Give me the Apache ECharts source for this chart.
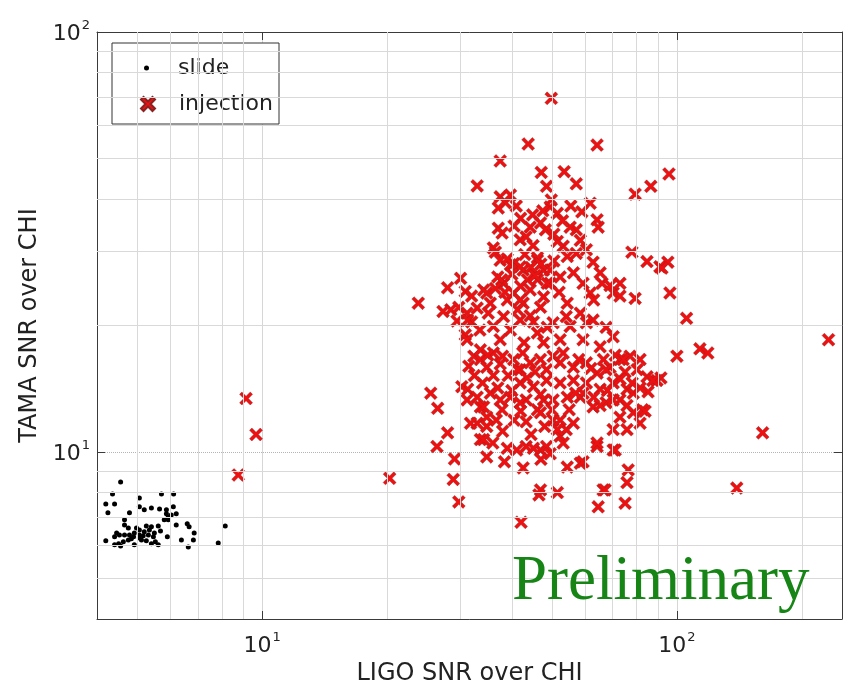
<!DOCTYPE html>
<html>
<head>
<meta charset="utf-8">
<script src="https://cdn.jsdelivr.net/npm/echarts@6/dist/echarts.min.js"></script>
<style>
  html, body { margin: 0; background: #fff; }
  #chart { width: 848px; height: 700px; }
</style>
</head>
<body>
<div id="chart"></div>
<script>
  // [LIGO SNR/chi, TAMA SNR/chi]
  const slidePoints = [
    [4.56,8.48],[4.36,7.94],[4.41,7.52],[4.20,7.52],[4.25,7.16],[4.79,7.16],[5.06,7.77],[5.06,7.40],
    [5.20,7.28],[5.41,7.35],[5.72,7.94],[6.12,7.94],[5.66,7.31],[5.88,7.28],[6.11,7.40],[6.04,7.08],
    [5.81,6.89],[5.94,6.89],[6.21,6.70],[6.60,6.74],[6.67,6.63],[6.86,6.41],[6.83,6.17],[6.39,6.17],
    [6.64,5.94],[5.91,6.28],[5.62,6.66],[5.41,6.63],[5.26,6.66],[5.20,6.45],[5.06,6.52],[4.98,6.59],
    [4.66,6.89],[4.66,6.70],[4.76,6.59],[4.46,6.41],[4.41,6.28],[4.53,6.34],[4.66,6.34],[4.79,6.34],
    [4.90,6.28],[4.92,6.41],[5.06,6.24],[5.32,6.34],[5.47,6.28],[5.53,6.11],[5.62,6.01],[5.41,6.04],
    [5.26,6.14],[5.12,6.17],[4.92,6.01],[4.76,6.17],[4.63,6.11],[4.51,6.04],[4.41,6.01],[4.20,6.14],
    [4.56,5.97],[4.84,6.21],[5.17,6.31],[5.35,6.52],[5.50,6.41],[5.69,6.48],[5.94,7.00],[6.21,7.12],
    [5.88,7.12],[5.06,6.34],[8.15,6.66],[7.84,6.07]
  ];
  const injectionPoints = [
    [9.15,13.4],[9.67,11.0],[8.76,8.81],[20.3,8.65],[23.8,22.6],[25.5,13.8],[26.5,12.7],[29.1,9.62],
    [28.9,8.6],[29.8,7.6],[42.1,6.8],[49.8,69.5],[43.8,54.1],[64.2,53.8],[37.5,49.3],[33.0,43.0],
    [47.1,46.3],[53.5,46.5],[48.5,42.9],[57.2,43.5],[79.3,41.1],[86.5,42.9],[95.7,45.9],[61.8,39.1],
    [59.0,37.3],[64.2,35.7],[57.2,33.8],[55.3,34.3],[64.6,34.3],[58.5,31.9],[60.5,30.3],[53.2,30.9],
    [54.4,29.2],[77.9,29.9],[84.7,28.4],[91.0,27.6],[95.1,28.3],[62.8,28.3],[92.0,27.4],[96.2,23.9],
    [105.5,20.8],[100,16.9],[113.6,17.6],[118.7,17.2],[91.5,15.0],[232,18.5],[160.9,11.1],[139.4,8.2],
    [79.3,23.2],[37.5,40.5],[38.6,39.2],[37.1,38.1],[39.7,40.9],[49.8,39.8],[44.9,36.7],[46.9,35.1],
    [48.2,33.8],[44.3,34.3],[37.1,34.1],[37.9,33.2],[36.1,30.6],[41.9,32.0],[43.3,32.5],[51.5,31.7],
    [40.4,28.1],[46.1,28.6],[49.5,38.3],[51.5,37.0],[28.0,24.6],[30.1,25.9],[30.9,24.1],[28.5,21.8],
    [29.8,22.1],[31.2,21.4],[32.0,20.4],[30.9,19.0],[31.2,18.5],[34.2,24.3],[35.5,22.6],[36.1,19.9],
    [35.1,21.4],[39.7,27.9],[38.2,25.2],[40.4,23.9],[42.6,22.6],[39.0,23.0],[44.3,24.3],[46.1,25.7],
    [47.7,27.1],[44.3,21.1],[46.1,19.2],[39.7,19.5],[32.4,16.9],[33.6,16.6],[36.1,17.2],[37.5,16.2],
    [34.8,15.9],[40.4,16.6],[41.9,15.7],[44.3,16.3],[46.9,16.6],[48.5,15.7],[39.2,15.2],[41.9,14.6],
    [45.1,14.3],[43.3,13.3],[47.7,13.3],[31.3,14.1],[33.0,13.5],[31.2,13.3],[33.6,12.8],[35.5,13.8],
    [37.5,13.3],[36.5,29.9],[46.1,29.0],[57.2,29.7],[42.6,27.1],[37.8,25.7],[41.9,23.0],[47.7,23.4],
    [49.5,25.2],[52.3,26.1],[56.3,26.7],[59.4,25.2],[61.8,23.9],[66.0,25.2],[70.2,23.9],[72.9,25.2],
    [27.3,21.6],[31.3,20.6],[34.8,23.9],[41.9,20.6],[45.1,20.4],[50.3,20.3],[54.1,21.0],[58.5,21.4],
    [62.8,20.6],[67.5,19.8],[70.2,18.8],[41.3,15.7],[50.3,16.9],[52.3,16.3],[56.3,15.9],[60.5,16.3],
    [64.2,15.4],[69.0,15.9],[72.9,16.6],[77.1,16.9],[81.5,16.6],[84.7,15.1],[89.5,14.8],[80.2,15.7],
    [70.2,14.6],[75.8,14.1],[65.3,14.1],[60.5,14.6],[56.3,14.8],[52.3,14.6],[48.5,14.8],[36.1,15.2],
    [30.3,14.3],[28.0,11.1],[26.4,10.3],[34.2,12.8],[33.0,11.7],[34.8,12.1],[36.7,11.9],[46.1,12.6],
    [50.3,11.9],[52.3,10.9],[54.1,11.3],[53.2,10.5],[58.5,13.5],[62.8,12.8],[67.5,13.1],[72.9,12.1],
    [78.5,12.4],[82.6,12.6],[75.8,11.3],[70.2,11.3],[41.1,10.1],[43.3,10.3],[46.9,10.1],[48.5,10.3],
    [34.8,9.73],[38.4,9.47],[42.6,9.16],[46.9,8.12],[51.5,8.0],[54.4,9.2],[58.5,9.4],[64.2,10.3],
    [70.2,10.1],[76.3,9.06],[75.8,8.45],[75.0,7.55],[66.4,8.12],[64.6,7.4],[33.6,10.7],[31.8,11.7],
    [34.8,11.5],[34.2,10.7],[45.1,10.2],[49.5,9.9],[43.3,11.8],[46.9,12.4],[52.3,11.9],[51.5,11.3],
    [56.3,11.7],[59.4,9.47],[46.5,7.9],[64.2,10.5],[71.0,10.1],[67.1,8.12],[81.5,11.7],[83.8,12.5],
    [65.3,12.9],[72.9,13.3],[78.5,13.8],[85.2,13.9],[39.7,13.5],[41.9,13.1],[46.9,13.7],[50.3,13.3],
    [54.4,13.5],[59.4,13.8],[70.2,13.3],[75.8,12.9],[37.9,12.6],[49.5,27.1],[65.3,26.7],[69.0,24.9],
    [72.9,23.5],[63.0,23.0],[54.4,22.6],[55.3,19.9],[60.5,20.3],[65.3,17.8],[59.4,18.5],[52.3,18.5],
    [53.2,17.2],[67.5,15.7],[74.2,16.6],[81.5,14.2],[87.5,14.8],[37.5,28.6],[41.9,27.6],[37.0,26.1],
    [43.6,25.7],[48.7,25.2],[41.3,21.8],[46.9,22.1],[38.2,21.0],[48.7,19.8],[37.5,18.5],[42.8,18.2],
    [47.7,18.2],[33.6,17.5],
    [40.0,26.5],[44.5,27.5],[42.0,24.8],[45.5,26.3],[39.0,28.8],[47.0,28.0],[43.0,29.5],[50.5,28.5],
    [52.0,24.0],[38.5,24.0],[31.5,16.0],[35.0,17.0],[38.0,16.9],[42.5,17.2],[45.5,15.5],[34.0,14.6],
    [37.0,14.2],[40.0,14.0],[43.5,15.0],[32.5,15.2],[58.0,16.6],[62.0,15.8],[66.5,16.6],[71.0,17.0],
    [75.0,15.5],[78.0,14.6],[68.0,14.0],[63.0,13.5],[57.0,13.8],[73.0,14.9],[38.0,11.2],[40.5,11.9],
    [44.5,11.0],[48.0,11.5],[36.0,10.5],[50.0,12.6],[55.0,12.6],[42.0,12.5],[39.0,10.2],[47.0,9.6],
    [42.0,36.0],[47.5,37.5],[53.0,35.5],[40.5,34.5],[50.5,33.0],[55.5,38.5],[45.0,31.0],[41.0,38.5],
    [33.0,22.0],[32.0,23.5],[36.5,24.5],[33.5,19.5],[29.5,20.5]
  ];
  const xRange = [4, 250];
  const yRange = [4, 100];
  const minorX = [5, 6, 7, 8, 9, 20, 30, 40, 50, 60, 70, 80, 90, 200];
  const minorY = [5, 6, 7, 8, 9, 20, 30, 40, 50, 60, 70, 80, 90];

  const FONT = 'DejaVu Sans';
  const CROSS = 'path://M0,1.8L1.8,0L5,3.2L8.2,0L10,1.8L6.8,5L10,8.2L8.2,10L5,6.8L1.8,10L0,8.2L3.2,5Z';

  // 10^n labels only at the decades
  const powLabel = (v) => {
    const e = Math.round(Math.log10(v));
    if (Math.abs(v - Math.pow(10, e)) < 1e-6) return '{b|10}{s|' + e + '}';
    return '';
  };
  const labelRich = {
    b: { fontSize: 22, fontFamily: FONT, color: '#222', verticalAlign: 'bottom', lineHeight: 26 },
    s: { fontSize: 13, fontFamily: FONT, color: '#222', verticalAlign: 'top', lineHeight: 13, padding: [0, 0, 0, 1] }
  };
  const edge = {
    axisLine: { show: true, onZero: false, lineStyle: { color: '#3a3a3a', width: 1 } },
    axisTick: { show: true, inside: true, length: 8, lineStyle: { color: '#3a3a3a' } }
  };

  const option = {
    animation: false,
    backgroundColor: '#fff',
    grid: { left: 97, right: 6, top: 32, bottom: 81 },
    xAxis: [
      Object.assign({
        type: 'log', logBase: 10, min: xRange[0], max: xRange[1], position: 'bottom',
        axisLabel: { formatter: powLabel, margin: 12, rich: labelRich },
        splitLine: { show: true, lineStyle: { color: '#d6d6d6' } },
        name: 'LIGO SNR over CHI', nameLocation: 'middle', nameGap: 40,
        nameTextStyle: { fontSize: 24, fontFamily: FONT, color: '#222' }
      }, edge),
      Object.assign({
        type: 'log', logBase: 10, min: xRange[0], max: xRange[1], position: 'top',
        axisLabel: { show: false }, splitLine: { show: false }
      }, edge)
    ],
    yAxis: [
      Object.assign({
        type: 'log', logBase: 10, min: yRange[0], max: yRange[1], position: 'left',
        axisLabel: { formatter: powLabel, margin: 7, rich: labelRich },
        splitLine: { show: true, lineStyle: { color: '#b4b4b4', type: 'dotted' } },
        name: 'TAMA SNR over CHI', nameLocation: 'middle', nameGap: 55,
        nameTextStyle: { fontSize: 24, fontFamily: FONT, color: '#222' }
      }, edge),
      Object.assign({
        type: 'log', logBase: 10, min: yRange[0], max: yRange[1], position: 'right',
        axisLabel: { show: false }, splitLine: { show: false }
      }, edge)
    ],
    legend: [
      {
        data: ['slide'], left: 144, top: 57, padding: 0, z: 5,
        itemWidth: 5, itemHeight: 5,
        textStyle: { fontSize: 22, fontFamily: FONT, color: '#222', padding: [0, 0, 0, 24] }
      },
      {
        data: ['injection'], left: 140, top: 93, padding: 0, z: 5,
        itemWidth: 14, itemHeight: 14,
        textStyle: { fontSize: 22, fontFamily: FONT, color: '#222', padding: [0, 0, 0, 19] }
      }
    ],
    graphic: [
      {
        type: 'rect', z: 3, silent: true,
        shape: { x: 112, y: 43, width: 167, height: 81 },
        style: { fill: '#fff', stroke: '#333', lineWidth: 1 }
      },
      {
        type: 'text', z: 10, silent: true, x: 512, y: 582,
        style: {
          text: 'Preliminary', fill: '#168516',
          font: '63px "Liberation Serif"', verticalAlign: 'middle'
        }
      }
    ],
    series: [
      {
        name: 'grid', type: 'scatter', data: [], z: 1, silent: true,
        markLine: {
          silent: true, symbol: 'none', animation: false,
          label: { show: false },
          lineStyle: { color: '#d9d9d9', type: 'solid', width: 1 },
          data: minorX.map((v) => ({ xAxis: v })).concat(minorY.map((v) => ({ yAxis: v })))
        }
      },
      {
        name: 'slide', type: 'scatter', data: slidePoints, z: 2,
        symbol: 'circle', symbolSize: 5,
        itemStyle: { color: '#000', opacity: 1 }
      },
      {
        name: 'injection', type: 'scatter', data: injectionPoints, z: 2,
        symbol: CROSS, symbolSize: 13,
        itemStyle: { color: '#ee1111', opacity: 1, borderColor: '#8a2222', borderWidth: 0.4 }
      }
    ]
  };

  const myChart = echarts.init(document.getElementById('chart'));
  myChart.setOption(option);
</script>
</body>
</html>
